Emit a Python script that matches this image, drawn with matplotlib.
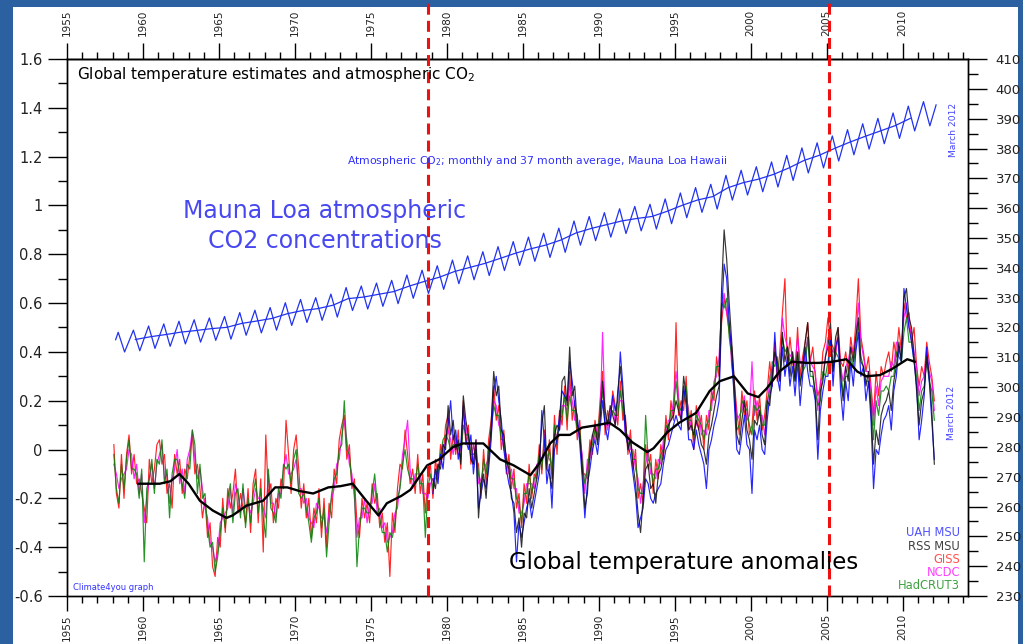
import numpy as np
import matplotlib.pyplot as plt
from matplotlib.ticker import MultipleLocator, FixedLocator, FuncFormatter

# global temperature anomalies, two-month means from Jan 1958 (deg C)
giss = [
    0.02, -0.18, -0.24, -0.02, -0.20, -0.02,
    0.06, -0.10, -0.02, -0.14, -0.12, -0.18,
    -0.24, -0.30, -0.04, -0.14, -0.08, 0.02,
    0.04, -0.06, -0.02, -0.18, -0.14, -0.24,
    -0.02, -0.10, -0.04, -0.18, -0.08, -0.12,
    -0.02, 0.06, -0.10, -0.06, -0.16, -0.28,
    -0.20, -0.36, -0.30, -0.48, -0.52, -0.36,
    -0.40, -0.20, -0.34, -0.16, -0.24, -0.18,
    -0.08, -0.26, -0.18, -0.24, -0.30, -0.16,
    -0.34, -0.14, -0.08, -0.30, -0.12, -0.42,
    0.06, -0.18, -0.14, -0.30, -0.20, -0.24,
    -0.12, -0.16, 0.12, -0.02, -0.18, 0.00,
    0.06, -0.08, -0.24, -0.14, -0.28, -0.20,
    -0.36, -0.24, -0.30, -0.16, -0.36, -0.20,
    -0.40, -0.22, -0.28, -0.08, -0.14, 0.04,
    0.10, 0.14, -0.04, 0.02, -0.16, -0.12,
    -0.30, -0.36, -0.20, -0.28, -0.22, -0.30,
    -0.14, -0.22, -0.18, -0.32, -0.26, -0.38,
    -0.30, -0.52, -0.26, -0.34, -0.16, -0.06,
    -0.08, 0.08, -0.02, -0.14, -0.08, -0.18,
    -0.02, -0.18, -0.10, -0.26, -0.12, -0.06,
    -0.20, -0.04, -0.12, 0.02, -0.04, 0.10,
    0.14, -0.04, 0.06, -0.02, 0.08, -0.08,
    0.20, 0.02, 0.10, -0.06, 0.02, -0.04,
    -0.06, -0.20, 0.00, -0.14, 0.04, 0.12,
    0.26, 0.12, 0.18, 0.00, 0.08, -0.10,
    -0.02, -0.16, -0.08, -0.24, -0.18, -0.32,
    -0.14, -0.22, -0.06, -0.20, -0.10, -0.12,
    0.02, -0.10, 0.08, -0.08, 0.04, -0.12,
    0.14, -0.02, 0.16, 0.10, 0.26, 0.08,
    0.32, 0.12, 0.20, 0.04, 0.12, -0.10,
    -0.10, -0.12, 0.04, -0.02, 0.12, 0.04,
    0.20, 0.32, 0.06, 0.16, 0.10, 0.24,
    0.18, 0.10, 0.28, 0.12, 0.14, -0.02,
    0.08, -0.08, 0.00, -0.20, -0.14, -0.22,
    0.02, -0.08, -0.02, -0.18, -0.04, -0.12,
    0.02, -0.04, 0.14, 0.04, 0.20, 0.12,
    0.52, 0.14, 0.20, 0.16, 0.30, 0.08,
    0.16, 0.00, 0.18, 0.08, 0.14, 0.00,
    0.14, 0.08, 0.24, 0.20, 0.38, 0.30,
    0.52, 0.62, 0.56, 0.48, 0.42, 0.28,
    0.16, 0.06, 0.24, 0.14, 0.20, 0.06,
    0.10, 0.24, 0.12, 0.22, 0.08, 0.14,
    0.24, 0.36, 0.26, 0.44, 0.28, 0.40,
    0.56, 0.70, 0.34, 0.46, 0.36, 0.30,
    0.50, 0.30, 0.38, 0.44, 0.52, 0.36,
    0.42, 0.30, 0.22, 0.26, 0.40, 0.44,
    0.54, 0.44, 0.42, 0.38, 0.50, 0.36,
    0.34, 0.40, 0.32, 0.46, 0.38, 0.52,
    0.70, 0.46, 0.40, 0.32, 0.38, 0.26,
    0.14, 0.32, 0.22, 0.34, 0.30, 0.36,
    0.40, 0.32, 0.44, 0.38, 0.50, 0.40,
    0.60, 0.54, 0.56, 0.44, 0.50, 0.34,
    0.26, 0.34, 0.30, 0.44, 0.36, 0.30,
    0.20,
]
ncdc = [
    -0.06, -0.10, -0.16, -0.12, -0.10, -0.08,
    0.00, -0.02, -0.12, -0.06, -0.18, -0.10,
    -0.30, -0.20, -0.12, -0.06, -0.16, -0.06,
    -0.02, 0.02, -0.12, -0.10, -0.22, -0.12,
    -0.08, 0.00, -0.14, -0.08, -0.18, -0.04,
    0.00, 0.08, -0.04, -0.12, -0.08, -0.16,
    -0.24, -0.28, -0.38, -0.40, -0.46, -0.42,
    -0.30, -0.28, -0.26, -0.24, -0.16, -0.26,
    -0.14, -0.18, -0.26, -0.16, -0.24, -0.22,
    -0.26, -0.22, -0.16, -0.20, -0.20, -0.24,
    -0.28, -0.10, -0.22, -0.22, -0.28, -0.18,
    -0.18, -0.08, -0.02, -0.10, -0.10, -0.08,
    -0.04, -0.16, -0.16, -0.22, -0.20, -0.28,
    -0.30, -0.32, -0.22, -0.24, -0.28, -0.28,
    -0.34, -0.26, -0.20, -0.16, -0.06, -0.04,
    0.06, 0.12, 0.04, -0.06, -0.10, -0.20,
    -0.36, -0.28, -0.28, -0.20, -0.30, -0.22,
    -0.22, -0.14, -0.26, -0.24, -0.32, -0.30,
    -0.38, -0.36, -0.34, -0.26, -0.24, -0.14,
    -0.02, 0.04, 0.12, -0.08, -0.16, -0.10,
    -0.10, -0.10, -0.18, -0.18, -0.20, -0.14,
    -0.12, -0.12, -0.06, -0.06, 0.02, 0.02,
    0.08, 0.04, -0.02, 0.06, -0.02, 0.00,
    0.14, 0.10, 0.02, 0.02, -0.06, 0.04,
    -0.14, -0.12, -0.08, -0.06, -0.04, 0.06,
    0.20, 0.18, 0.10, 0.08, 0.00, -0.02,
    -0.10, -0.08, -0.16, -0.16, -0.26, -0.26,
    -0.22, -0.14, -0.14, -0.14, -0.16, -0.06,
    -0.06, -0.04, 0.00, -0.02, -0.04, -0.06,
    0.06, 0.06, 0.08, 0.18, 0.18, 0.16,
    0.26, 0.20, 0.12, 0.12, 0.04, -0.02,
    -0.18, -0.04, -0.04, 0.06, 0.04, 0.10,
    0.12, 0.48, 0.14, 0.08, 0.16, 0.20,
    0.10, 0.18, 0.20, 0.20, 0.06, 0.06,
    0.00, 0.00, -0.08, -0.12, -0.22, -0.14,
    -0.06, 0.00, -0.10, -0.10, -0.12, -0.04,
    -0.06, 0.04, 0.06, 0.12, 0.12, 0.20,
    0.32, 0.22, 0.12, 0.24, 0.22, 0.16,
    0.08, 0.08, 0.10, 0.16, 0.06, 0.08,
    0.06, 0.16, 0.16, 0.28, 0.30, 0.38,
    0.58, 0.64, 0.56, 0.52, 0.34, 0.26,
    0.12, 0.14, 0.16, 0.22, 0.12, 0.14,
    0.36, 0.14, 0.20, 0.14, 0.14, 0.06,
    0.16, 0.30, 0.32, 0.38, 0.34, 0.28,
    0.54, 0.46, 0.42, 0.38, 0.40, 0.34,
    0.46, 0.36, 0.34, 0.38, 0.46, 0.36,
    0.34, 0.32, 0.16, 0.28, 0.30, 0.38,
    0.46, 0.42, 0.40, 0.40, 0.46, 0.34,
    0.28, 0.34, 0.36, 0.42, 0.40, 0.46,
    0.60, 0.44, 0.38, 0.32, 0.32, 0.24,
    0.10, 0.26, 0.18, 0.28, 0.30, 0.30,
    0.30, 0.36, 0.34, 0.44, 0.42, 0.42,
    0.54, 0.60, 0.50, 0.48, 0.40, 0.34,
    0.22, 0.28, 0.30, 0.40, 0.32, 0.28,
    0.16,
]
hadcrut3 = [
    -0.02, -0.16, -0.22, -0.06, -0.16, -0.04,
    0.04, -0.08, -0.08, -0.10, -0.20, -0.08,
    -0.46, -0.16, -0.12, -0.04, -0.18, -0.04,
    -0.06, 0.04, -0.14, -0.08, -0.28, -0.10,
    -0.04, -0.04, -0.10, -0.14, -0.20, -0.06,
    -0.08, 0.08, 0.02, -0.18, -0.06, -0.20,
    -0.18, -0.32, -0.40, -0.38, -0.50, -0.44,
    -0.34, -0.24, -0.32, -0.20, -0.14, -0.30,
    -0.18, -0.16, -0.28, -0.14, -0.32, -0.20,
    -0.30, -0.18, -0.12, -0.26, -0.16, -0.28,
    -0.36, -0.08, -0.24, -0.26, -0.30, -0.16,
    -0.20, -0.06, -0.08, -0.06, -0.14, -0.04,
    0.00, -0.18, -0.20, -0.18, -0.24, -0.30,
    -0.38, -0.28, -0.26, -0.20, -0.32, -0.24,
    -0.44, -0.30, -0.18, -0.12, -0.10, 0.00,
    0.02, 0.20, 0.00, -0.02, -0.14, -0.16,
    -0.48, -0.32, -0.24, -0.24, -0.26, -0.26,
    -0.18, -0.10, -0.22, -0.28, -0.34, -0.34,
    -0.42, -0.34, -0.36, -0.30, -0.20, -0.16,
    -0.06, 0.00, -0.08, -0.12, -0.12, -0.14,
    -0.06, -0.14, -0.14, -0.36, -0.16, -0.10,
    -0.16, -0.08, -0.10, -0.02, 0.04, 0.06,
    0.04, 0.00, 0.02, 0.02, 0.02, -0.04,
    0.10, 0.06, 0.06, -0.02, -0.02, 0.00,
    -0.10, -0.16, -0.04, -0.10, 0.00, 0.08,
    0.18, 0.14, 0.14, 0.04, 0.04, -0.06,
    -0.06, -0.12, -0.12, -0.20, -0.22, -0.30,
    -0.18, -0.18, -0.10, -0.18, -0.12, -0.10,
    -0.02, -0.08, 0.04, -0.06, 0.00, -0.10,
    0.10, 0.02, 0.12, 0.14, 0.22, 0.12,
    0.22, 0.16, 0.16, 0.08, 0.08, -0.06,
    -0.14, -0.08, 0.00, 0.02, 0.08, 0.06,
    0.16, 0.24, 0.10, 0.12, 0.12, 0.16,
    0.14, 0.14, 0.24, 0.16, 0.10, 0.02,
    0.04, -0.04, -0.04, -0.16, -0.18, -0.18,
    0.14, -0.04, -0.06, -0.14, -0.08, -0.08,
    -0.02, 0.00, 0.10, 0.08, 0.16, 0.16,
    0.28, 0.18, 0.16, 0.20, 0.26, 0.12,
    0.12, 0.04, 0.14, 0.12, 0.10, 0.04,
    0.10, 0.12, 0.20, 0.24, 0.34, 0.34,
    0.60, 0.58, 0.62, 0.46, 0.38, 0.22,
    0.08, 0.10, 0.20, 0.18, 0.16, 0.10,
    0.06, 0.18, 0.16, 0.18, 0.10, 0.10,
    0.20, 0.24, 0.36, 0.34, 0.38, 0.30,
    0.46, 0.40, 0.42, 0.36, 0.38, 0.28,
    0.40, 0.28, 0.32, 0.34, 0.46, 0.30,
    0.30, 0.24, 0.18, 0.20, 0.32, 0.30,
    0.36, 0.44, 0.32, 0.40, 0.38, 0.34,
    0.22, 0.30, 0.30, 0.38, 0.34, 0.42,
    0.52, 0.38, 0.34, 0.28, 0.28, 0.20,
    0.04, 0.20, 0.14, 0.24, 0.24, 0.26,
    0.24, 0.30, 0.30, 0.40, 0.38, 0.36,
    0.48, 0.54, 0.44, 0.44, 0.36, 0.30,
    0.16, 0.24, 0.26, 0.36, 0.28, 0.24,
    0.12,
]
# satellite series, two-month means from Jan 1979
uah_msu = [
    -0.18, -0.08, -0.14, -0.02, -0.08, 0.04,
    0.10, 0.20, 0.04, 0.08, -0.04, 0.02,
    0.18, 0.04, 0.00, 0.06, -0.10, 0.00,
    -0.24, -0.18, -0.12, -0.16, -0.08, 0.04,
    0.24, 0.30, 0.20, 0.12, 0.00, -0.08,
    -0.14, -0.18, -0.26, -0.46, -0.30, -0.36,
    -0.30, -0.24, -0.20, -0.28, -0.22, -0.16,
    -0.10, 0.16, 0.04, -0.14, -0.06, -0.24,
    0.00, 0.04, 0.14, 0.24, 0.22, 0.20,
    0.36, 0.28, 0.18, 0.14, 0.02, -0.12,
    -0.28, -0.14, -0.08, 0.00, 0.04, -0.02,
    0.08, 0.20, 0.10, 0.04, 0.12, 0.22,
    0.16, 0.20, 0.40, 0.26, 0.06, 0.02,
    -0.02, -0.10, -0.18, -0.32, -0.28, -0.24,
    -0.12, -0.14, -0.20, -0.22, -0.18, -0.16,
    -0.14, -0.06, 0.00, 0.02, 0.06, 0.10,
    0.14, 0.10, 0.08, 0.26, 0.18, 0.04,
    0.04, 0.00, 0.08, 0.02, -0.02, -0.06,
    -0.16, 0.00, 0.04, 0.10, 0.14, 0.20,
    0.56, 0.76, 0.70, 0.52, 0.40, 0.20,
    0.00, -0.02, 0.06, 0.14, 0.02, 0.00,
    -0.18, 0.08, 0.04, 0.10, 0.00, -0.02,
    0.12, 0.22, 0.26, 0.48, 0.30, 0.24,
    0.42, 0.30, 0.38, 0.26, 0.34, 0.22,
    0.36, 0.18, 0.30, 0.42, 0.32, 0.26,
    0.26, 0.20, -0.04, 0.16, 0.24, 0.30,
    0.30, 0.48, 0.26, 0.42, 0.46, 0.24,
    0.12, 0.28, 0.20, 0.36, 0.26, 0.40,
    0.48, 0.30, 0.34, 0.20, 0.28, 0.12,
    -0.16, 0.00, -0.02, 0.06, 0.12, 0.14,
    0.18, 0.08, 0.24, 0.30, 0.42, 0.36,
    0.66, 0.58, 0.50, 0.44, 0.36, 0.26,
    0.04, 0.12, 0.22, 0.42, 0.28, 0.12,
    -0.04,
]
rss_msu = [
    -0.12, -0.16, -0.06, -0.08, 0.02, 0.00,
    0.18, 0.06, 0.12, 0.00, 0.04, -0.06,
    0.22, 0.12, 0.06, -0.04, -0.06, 0.04,
    -0.28, -0.14, -0.10, -0.20, -0.04, 0.10,
    0.32, 0.22, 0.26, 0.08, 0.06, -0.04,
    -0.08, -0.20, -0.22, -0.34, -0.28, -0.40,
    -0.26, -0.28, -0.16, -0.24, -0.18, -0.12,
    -0.04, 0.10, 0.18, -0.08, -0.10, -0.16,
    0.06, 0.10, 0.08, 0.28, 0.30, 0.18,
    0.42, 0.22, 0.26, 0.10, 0.06, -0.08,
    -0.24, -0.18, -0.02, 0.06, 0.10, 0.02,
    0.12, 0.28, 0.16, 0.10, 0.18, 0.14,
    0.10, 0.24, 0.34, 0.22, 0.12, 0.00,
    0.04, -0.06, -0.14, -0.26, -0.34, -0.20,
    -0.08, -0.06, -0.16, -0.14, -0.22, -0.10,
    -0.08, -0.02, 0.06, 0.10, 0.12, 0.14,
    0.20, 0.16, 0.12, 0.30, 0.22, 0.08,
    0.10, 0.06, 0.12, 0.08, 0.02, 0.00,
    -0.06, 0.06, 0.10, 0.16, 0.22, 0.26,
    0.66, 0.90, 0.78, 0.60, 0.44, 0.28,
    0.06, 0.02, 0.12, 0.20, 0.08, 0.04,
    -0.04, 0.12, 0.10, 0.16, 0.06, 0.02,
    0.20, 0.18, 0.30, 0.40, 0.36, 0.28,
    0.48, 0.36, 0.42, 0.30, 0.40, 0.28,
    0.40, 0.26, 0.34, 0.44, 0.52, 0.32,
    0.32, 0.22, 0.04, 0.24, 0.28, 0.38,
    0.42, 0.52, 0.32, 0.46, 0.50, 0.30,
    0.20, 0.34, 0.28, 0.42, 0.36, 0.46,
    0.54, 0.36, 0.34, 0.26, 0.32, 0.16,
    -0.06, 0.08, 0.02, 0.14, 0.18, 0.20,
    0.24, 0.16, 0.28, 0.34, 0.44, 0.36,
    0.62, 0.66, 0.54, 0.50, 0.38, 0.24,
    0.10, 0.20, 0.24, 0.38, 0.30, 0.16,
    -0.06,
]

# 37 month running average of all five series
smooth_years = [1959.7, 1961.1, 1961.8, 1962.4, 1963.0, 1963.75, 1964.6, 1965.5,
                1965.9, 1966.8, 1967.9, 1968.7, 1969.5, 1970.3, 1971.2, 1972.2,
                1973.0, 1973.8, 1974.7, 1975.5, 1976.05, 1977.0, 1977.6, 1978.7,
                1979.5, 1980.4, 1981.05, 1982.4, 1983.5, 1984.4, 1985.5, 1986.1,
                1986.8, 1987.4, 1988.1, 1988.9, 1989.9, 1990.7, 1991.4, 1992.2,
                1993.2, 1993.6, 1994.5, 1995.3, 1996.4, 1997.3, 1997.96, 1998.9,
                1999.8, 2000.5, 2001.05, 2001.9, 2002.7, 2003.7, 2004.5, 2005.4,
                2006.3, 2007.0, 2007.6, 2008.5, 2009.3, 2010.3, 2010.8]
smooth_vals = [-0.14, -0.14, -0.13, -0.10, -0.14, -0.21, -0.25, -0.28,
               -0.27, -0.23, -0.21, -0.155, -0.155, -0.17, -0.18, -0.155,
               -0.15, -0.14, -0.21, -0.27, -0.22, -0.19, -0.165, -0.065,
               -0.04, 0.01, 0.025, 0.025, -0.04, -0.065, -0.105, -0.055,
               0.025, 0.06, 0.06, 0.09, 0.10, 0.11, 0.08, 0.03,
               -0.01, 0.005, 0.07, 0.11, 0.15, 0.24, 0.28, 0.30,
               0.23, 0.215, 0.25, 0.32, 0.36, 0.355, 0.355, 0.36,
               0.37, 0.32, 0.30, 0.305, 0.33, 0.37, 0.36]

# Mauna Loa CO2 (ppm): seasonal maximum (May) and minimum (Oct) each year
co2_years = list(range(1958, 2012))
co2_may = [318.4, 319.1, 320.5, 321.2, 322.1, 322.6, 323.2, 323.7, 325.0, 325.8,
           326.7, 328.3, 329.4, 330.0, 331.2, 333.4, 333.9, 334.9, 335.8, 337.6,
           339.2, 340.7, 342.6, 344.0, 345.4, 347.1, 348.8, 350.3, 351.6, 353.3,
           355.7, 357.2, 358.5, 359.8, 360.6, 361.3, 363.1, 365.1, 366.9, 368.0,
           371.0, 372.7, 373.9, 375.5, 377.7, 380.2, 381.9, 384.2, 386.3, 388.3,
           390.1, 391.9, 394.2, 395.7]
co2_oct = [311.8, 312.2, 313.0, 313.7, 314.5, 315.1, 315.7, 316.1, 317.4, 318.2,
           319.1, 320.7, 321.7, 322.4, 323.5, 325.7, 326.2, 327.1, 328.0, 329.8,
           331.4, 332.8, 334.7, 336.0, 337.4, 339.1, 340.8, 342.2, 343.5, 345.2,
           347.6, 349.1, 350.3, 351.5, 352.4, 353.0, 354.8, 356.8, 358.6, 359.7,
           362.7, 364.4, 365.5, 367.1, 369.3, 371.8, 373.5, 375.8, 377.9, 379.8,
           381.6, 383.4, 385.9, 387.6]
co2_first = 315.9   # March 1958
co2_last = 394.6    # March 2012
# annual means used for the running average line
co2_avg_years = list(range(1959, 2011))
co2_annual = [315.97, 316.91, 317.64, 318.45, 318.99, 319.62, 320.04, 321.37, 322.18,
              323.05, 324.62, 325.68, 326.32, 327.46, 329.68, 330.19, 331.12, 332.03,
              333.84, 335.41, 336.84, 338.76, 340.12, 341.48, 343.15, 344.87, 346.35,
              347.61, 349.31, 351.69, 353.20, 354.45, 355.70, 356.54, 357.21, 358.96,
              360.97, 362.74, 363.88, 366.84, 368.54, 369.71, 371.32, 373.45, 375.98,
              377.70, 379.98, 382.09, 384.02, 385.83, 387.64, 390.10]

W, H = 1023, 644


def fx(px):
    return px / W


def fy(py):
    return 1 - py / H


fig = plt.figure(figsize=(W / 100, H / 100), dpi=100)
fig.patch.set_facecolor('#2b61a0')
fig.add_artist(plt.Rectangle((fx(13), 0), fx(1018) - fx(13), fy(7), transform=fig.transFigure,
                             facecolor='white', edgecolor='none', zorder=-5))

ax = fig.add_axes([fx(67), fy(596), fx(968) - fx(67), fy(59) - fy(596)])
ax.set_xlim(1955, 2014.3)
ax.set_ylim(-0.6, 1.6)

t_ground = 1958 + (np.arange(len(giss)) + 0.5) / 6
t_sat = 1979 + (np.arange(len(uah_msu)) + 0.5) / 6
lw = 0.85
ax.plot(t_ground, giss, color='#ff0000', lw=lw, alpha=0.85)
ax.plot(t_ground, ncdc, color='#ff00ff', lw=lw, alpha=0.85)
ax.plot(t_ground, hadcrut3, color='#008000', lw=lw, alpha=0.85)
ax.plot(t_sat, uah_msu, color='#0000ff', lw=lw, alpha=0.85)
ax.plot(t_sat, rss_msu, color='#111111', lw=lw, alpha=0.85)
ax.plot(smooth_years, smooth_vals, color='black', lw=1.7)

# CO2 on its own right hand scale
ax2 = ax.twinx()
ax2.set_ylim(230, 410)
co2_t = [1958.2]
co2_v = [co2_first]
for yr, hi, lo in zip(co2_years, co2_may, co2_oct):
    co2_t += [yr + 0.37, yr + 0.79]
    co2_v += [hi, lo]
co2_t.append(2012.2)
co2_v.append(co2_last)
ax2.plot(co2_t, co2_v, color='#2233ee', lw=0.9)
ax2.plot(np.array(co2_avg_years) + 0.5, co2_annual, color='#2233ee', lw=0.9)

for yr in [1978.77, 2005.12]:
    ax2.axvline(yr, ymin=0, ymax=1.11, color='#ee1111', lw=2.2, dashes=(3.6, 2.0),
                clip_on=False, zorder=5)

# axes, ticks and labels (years on both bottom and top)
ax.xaxis.set_major_locator(MultipleLocator(5))
ax.xaxis.set_minor_locator(MultipleLocator(1))
ax.yaxis.set_major_locator(MultipleLocator(0.2))
ax.yaxis.set_minor_locator(MultipleLocator(0.1))
ax.yaxis.set_major_formatter(FuncFormatter(lambda v, p: '%g' % round(v, 1)))
ax2.yaxis.set_major_locator(MultipleLocator(10))
ax2.yaxis.set_minor_locator(MultipleLocator(5))

top = ax.secondary_xaxis('top')
top.xaxis.set_major_locator(FixedLocator(np.arange(1955, 2011, 5)))
top.xaxis.set_minor_locator(FixedLocator(np.arange(1956, 2015, 1)))
top.tick_params(which='both', direction='out', labelrotation=90, labelsize=7.5,
                labelcolor='#222222', width=1)
top.tick_params(which='major', length=11.5, pad=5)
top.tick_params(which='minor', length=5)

ax.tick_params(axis='x', which='both', direction='out', labelrotation=90, labelsize=7.5,
               labelcolor='#222222', width=1)
ax.tick_params(axis='x', which='major', length=11, pad=2)
ax.tick_params(axis='x', which='minor', length=5)
ax.tick_params(axis='y', which='major', direction='out', length=13.5, width=1, pad=4,
               labelsize=10.5, labelcolor='#222222')
ax.tick_params(axis='y', which='minor', direction='out', length=6.5, width=1)
ax2.tick_params(axis='y', which='major', direction='out', length=14, width=1, pad=6,
                labelsize=9.5, labelcolor='#222222')
ax2.tick_params(axis='y', which='minor', direction='out', length=7, width=1)
for a in (ax, ax2, top):
    for s in a.spines.values():
        s.set_linewidth(1)

# texts
fig.text(fx(77), fy(75), 'Global temperature estimates and atmospheric CO$_2$',
         fontsize=11, va='center', ha='left')
fig.text(fx(347), fy(161), 'Atmospheric CO$_2$; monthly and 37 month average, Mauna Loa Hawaii',
         fontsize=7.8, va='center', ha='left', color='#3030ff')
fig.text(fx(325), fy(226), 'Mauna Loa atmospheric\nCO2 concentrations', fontsize=17,
         ha='center', va='center', color='#4848f0', linespacing=1.3)
fig.text(fx(684), fy(562), 'Global temperature anomalies', fontsize=16.5,
         ha='center', va='center', color='black')
fig.text(fx(73), fy(588), 'Climate4you graph', fontsize=6, va='center', ha='left',
         color='#3333ff')
fig.text(fx(954), fy(130), 'March 2012', fontsize=6.6, rotation=90, ha='center',
         va='center', color='#4444ff')
fig.text(fx(952), fy(413), 'March 2012', fontsize=6.6, rotation=90, ha='center',
         va='center', color='#4444ff')

series_names = ['UAH MSU', 'RSS MSU', 'GISS', 'NCDC', 'HadCRUT3']
series_colors = ['#5050ff', '#404040', '#ff5050', '#ff40ff', '#40a040']
for i, (name, col) in enumerate(zip(series_names, series_colors)):
    fig.text(fx(960), fy(533 + i * 13.2), name, fontsize=8.3, ha='right', va='center',
             color=col)

fig.savefig('out.png', dpi=100, facecolor=fig.get_facecolor())
